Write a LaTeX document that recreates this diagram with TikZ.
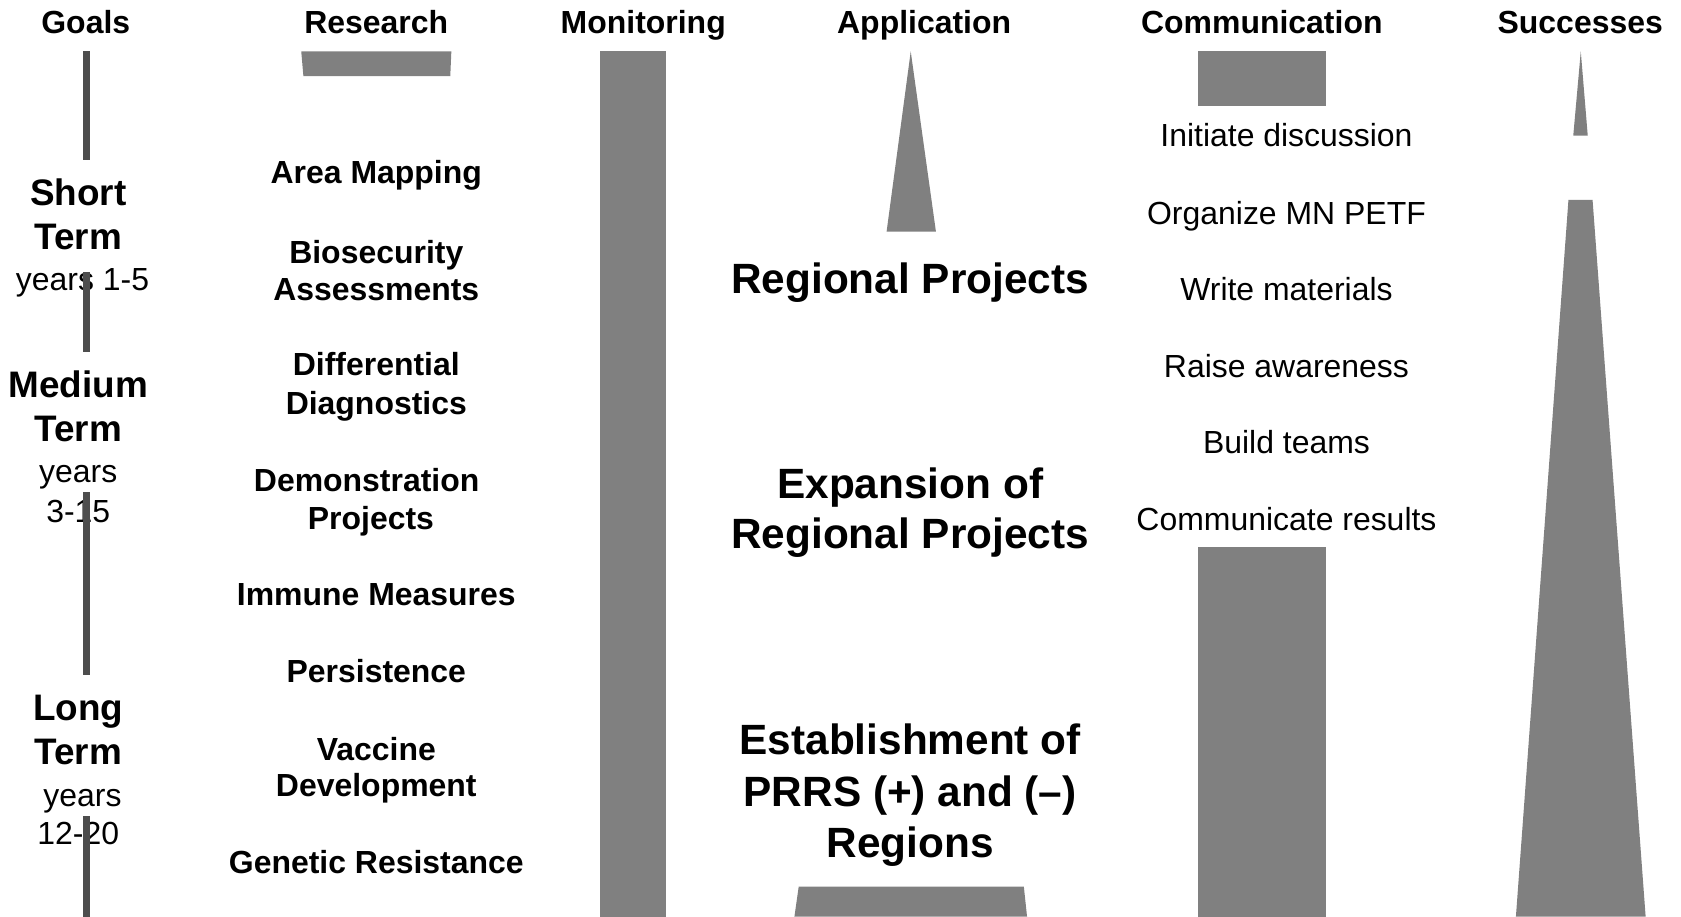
\documentclass[tikz,border=0pt]{standalone}
\usepackage{fontspec}
\setmainfont{Liberation Sans}
\definecolor{shapegray}{HTML}{808080}
\definecolor{bargray}{HTML}{4D4D4D}
\begin{document}
\begin{tikzpicture}[x=1pt,y=-1pt,
  every node/.style={inner sep=0pt, anchor=base},
  hdr/.style={font=\fontsize{29.8}{34}\selectfont\bfseries},
  goalbig/.style={font=\fontsize{34.4}{40}\selectfont\bfseries},
  goalsmall/.style={font=\fontsize{29.8}{34}\selectfont},
  research/.style={font=\fontsize{29.8}{34}\selectfont\bfseries},
  appl/.style={font=\fontsize{39.5}{46}\selectfont\bfseries},
  comm/.style={font=\fontsize{29.8}{34}\selectfont},
  shapefill/.style={fill=shapegray},
  goalbar/.style={fill=bargray}]
\useasboundingbox (0,0) rectangle (1568,855);
\fill[white] (0,0) rectangle (1568,855);

% headers
\node[hdr] (hGoals) at (80,31) {Goals};
\node[hdr] (hResearch) at (351,31) {Research};
\node[hdr] (hMonitoring) at (600,31) {Monitoring};
\node[hdr] (hApplication) at (862,31) {Application};
\node[hdr] (hCommunication) at (1177,31) {Communication};
\node[hdr] (hSuccesses) at (1474,31) {Successes};

% goals
\node[goalbig] (gS1) at (73,192) {Short};
\node[goalbig] (gS2) at (73,233) {Term};
\node[goalsmall] (gS3) at (77,271) {years 1-5};
\node[goalbig] (gM1) at (73,371) {Medium};
\node[goalbig] (gM2) at (73,412) {Term};
\node[goalsmall] (gM3) at (73,450) {years};
\node[goalsmall] (gM4) at (73,487) {3-15};
\node[goalbig] (gL1) at (73,672) {Long};
\node[goalbig] (gL2) at (73,713) {Term};
\node[goalsmall] (gL3) at (77,752) {years};
\node[goalsmall] (gL4) at (73,788) {12-20};

% research
\node[research] (r1) at (351,171) {Area Mapping};
\node[research] (r2a) at (351,245.5) {Biosecurity};
\node[research] (r2b) at (351,280) {Assessments};
\node[research] (r3a) at (351,350) {Differential};
\node[research] (r3b) at (351,387) {Diagnostics};
\node[research] (r4a) at (342,458) {Demonstration};
\node[research] (r4b) at (346,494) {Projects};
\node[research] (r5) at (351,565) {Immune Measures};
\node[research] (r6) at (351,637) {Persistence};
\node[research] (r7a) at (351,709) {Vaccine};
\node[research] (r7b) at (351,743) {Development};
\node[research] (r8) at (351,815) {Genetic Resistance};

% application
\node[appl] (a1) at (849,274) {Regional Projects};
\node[appl] (a2a) at (849,465) {Expansion of};
\node[appl] (a2b) at (849,512) {Regional Projects};
\node[appl] (a3a) at (849,704) {Establishment of};
\node[appl] (a3b) at (849,752) {PRRS (+) and (–)};
\node[appl] (a3c) at (849,800) {Regions};

% communication
\node[comm] (c1) at (1200,137) {Initiate discussion};
\node[comm] (c2) at (1200,209) {Organize MN PETF};
\node[comm] (c3) at (1200,280) {Write materials};
\node[comm] (c4) at (1200,352) {Raise awareness};
\node[comm] (c5) at (1200,423) {Build teams};
\node[comm] (c6) at (1200,495) {Communicate results};

% goals bar segments
\fill[goalbar] (77,48) rectangle (84,149);
\fill[goalbar] (77,254) rectangle (84,328);
\fill[goalbar] (77,459) rectangle (84,630);
\fill[goalbar] (77,761) rectangle (84,855);

% research trapezoid
\fill[shapefill] (281,48) -- (421,48) -- (420,71) -- (283,71) -- cycle;

% monitoring bar
\fill[shapefill] (560,48) rectangle (621,855);

% application shapes
\fill[shapefill] (849.5,48) -- (873,216) -- (827,216) -- cycle;
\fill[shapefill] (745,827) -- (955,827) -- (958,855) -- (741,855) -- cycle;

% communication rectangles
\fill[shapefill] (1117,48) rectangle (1237,99);
\fill[shapefill] (1117,510) rectangle (1237,855);

% successes shapes
\fill[shapefill] (1474.5,48) -- (1481,126.5) -- (1467.5,126.5) -- cycle;
\fill[shapefill] (1463,186.5) -- (1485.5,186.5) -- (1535,855) -- (1414,855) -- cycle;
\end{tikzpicture}
\end{document}
